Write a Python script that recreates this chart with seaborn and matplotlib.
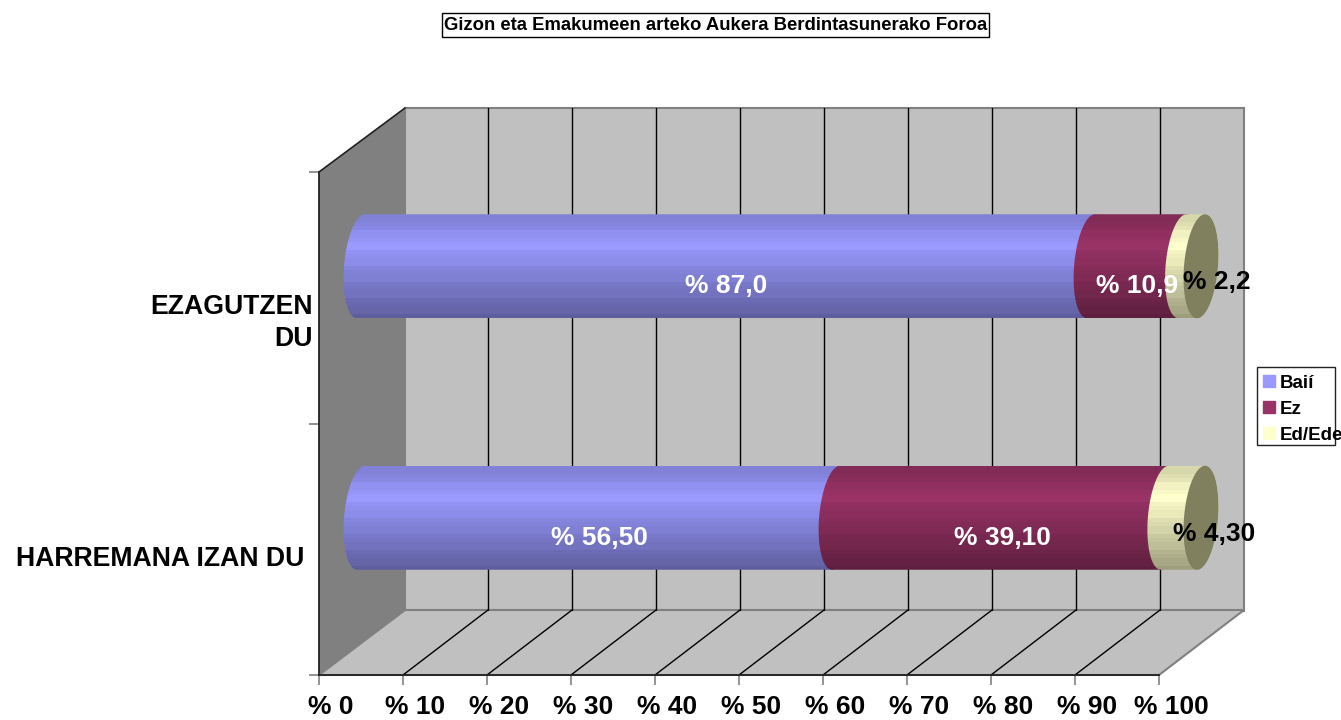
import numpy as np
import matplotlib
matplotlib.use("Agg")
import matplotlib.pyplot as plt
import matplotlib.transforms as mtrans
from matplotlib.patches import Patch, PathPatch, Polygon, Rectangle
from matplotlib.path import Path
import seaborn as sns

categories = ["EZAGUTZEN\nDU", "HARREMANA IZAN DU"]
series_names = ["Baií", "Ez", "Ed/Ede"]
bai = [87.0, 56.5]
ez = [10.9, 39.1]
ed = [2.2, 4.3]
bar_labels = [["% 87,0", "% 56,50"], ["% 10,9", "% 39,10"], ["% 2,2", "% 4,30"]]
x_ticks = [0, 10, 20, 30, 40, 50, 60, 70, 80, 90, 100]
colors = ["#9999FF", "#993366", "#FFFFCC"]
title = "Gizon eta Emakumeen arteko Aukera Berdintasunerako Foroa"

W, H = 1341, 720
sns.set_theme(style="white")
plt.rcParams["font.family"] = ["Liberation Sans", "DejaVu Sans"]
plt.rcParams["font.weight"] = "bold"

fig = plt.figure(figsize=(W / 100, H / 100), dpi=100)

def px_axes(left, top, right, bottom):
    return fig.add_axes([left / W, 1 - bottom / H, (right - left) / W, (bottom - top) / H])

# frame in pixels: left wall, back wall, floor, gridlines
FL, FR, FT, FB = 319, 1159, 172, 675
DX, DY = 86, 65
bg = px_axes(0, 0, W, H)
bg.set_xlim(0, W)
bg.set_ylim(H, 0)
bg.axis("off")
bg.add_patch(Polygon([(FL, FT), (FL + DX, FT - DY + 1), (FL + DX, FB - DY), (FL, FB)], fc="#808080", ec="none"))
bg.add_patch(Rectangle((FL + DX, FT - DY + 1), FR - FL - 1, FB - FT, fc="#C0C0C0", ec="#808080", lw=1.5))
bg.add_patch(Polygon([(FL, FB), (FR, FB), (FR + DX - 1, FB - DY), (FL + DX, FB - DY)], fc="#C0C0C0", ec="#808080", lw=1.5))
for t in x_ticks[1:-1]:
    fx = FL + (FR - FL) * t / 100
    bg.plot([fx + DX - 1, fx + DX - 1], [FT - DY + 1, FB - DY], color="black", lw=1)
    bg.plot([fx, fx + DX - 1], [FB, FB - DY], color="black", lw=1)
bg.plot([FL, FL + DX], [FT, FT - DY + 1], color="#222222", lw=1.2)

# front axis carries ticks and labels
front = px_axes(FL, FT, FR, FB)
front.patch.set_alpha(0)
front.set_xlim(0, 100)
front.set_ylim(1.5, -0.5)
front.set_xticks(x_ticks)
front.set_xticklabels([f"% {t}" for t in x_ticks], fontsize=19, fontweight="bold", color="black")
front.set_yticks([-0.5, 0.5, 1.5])
front.set_yticklabels([])
front.tick_params(axis="both", length=7, width=1.2, color="#808080", bottom=True, left=True, pad=7.7)
shift = mtrans.ScaledTranslation(12 / 100, 0, fig.dpi_scale_trans)
for lab in front.get_xticklabels():
    lab.set_transform(lab.get_transform() + shift)
for s in ["top", "right"]:
    front.spines[s].set_visible(False)
for s in ["left", "bottom"]:
    front.spines[s].set_color("#222222")
    front.spines[s].set_linewidth(1.3)

# bars sit half way through the depth, scale is the same as the front axis
PX = (FR - FL) / 100
ax = px_axes(FL + DX / 2 - 5 * PX - 1, FT - DY / 2 + 1, FR + DX / 2 + 5 * PX - 1, FB - DY / 2 + 1)
ax.patch.set_alpha(0)

# the chart is 100% stacked, so each row is scaled to its own total
totals = np.array(bai) + np.array(ez) + np.array(ed)
cum1 = np.array(bai) / totals * 100
cum2 = cum1 + np.array(ez) / totals * 100
cum3 = cum2 + np.array(ed) / totals * 100
cums = [cum1, cum2, cum3]
BAR_W = 104 / 251.5
for c, col in zip(cums[::-1], colors[::-1]):
    sns.barplot(x=c, y=categories, color=col, saturation=1, width=BAR_W, orient="h", ax=ax)
ax.set_xlim(-5, 105)
ax.set_ylim(1.5, -0.5)
ax.set_xlabel("")
ax.set_ylabel("")
ax.axis("off")

A = 17 / PX
S = 4 / PX
BH = BAR_W / 2

def arc(cx, cy, t0, t1):
    t = np.radians(np.linspace(t0, t1, 60))
    return np.column_stack([cx + A * np.cos(t) + S * np.sin(t), cy - BH * np.sin(t)])

def cyl_path(x0, x1, cy):
    pts = np.vstack([arc(x0, cy, 90, 270), arc(x1, cy, 270, 450)])
    return Path(np.vstack([pts, pts[0]]), closed=True)

shade_y = np.linspace(0, 1, 26)
shade = np.interp(shade_y, [0, 0.28, 1], [0.82, 1.0, 0.62])
shade[::4] = shade[::4] * 1.03

# seaborn patches are the flat bars, shaded cylinders go over them
for p in ax.patches:
    p.set_visible(False)
starts = [np.zeros(2), cum1, cum2]
for i, col in enumerate(colors):
    rgb = np.array(matplotlib.colors.to_rgb(col))
    grad = np.clip(shade[:, None, None] * rgb[None, None, :], 0, 1)
    for r in range(2):
        path = cyl_path(starts[i][r], cums[i][r], r)
        im = ax.imshow(grad, extent=(-5, 105, r + BH, r - BH), aspect="auto", interpolation="nearest", zorder=3 + i)
        im.set_clip_path(PathPatch(path, transform=ax.transData))
for r in range(2):
    ax.add_patch(Polygon(arc(cum3[r], r, 0, 360), fc="#80805F", ec="none", zorder=6))
ax.set_xlim(-5, 105)
ax.set_ylim(1.5, -0.5)

# value labels
offsets = [[(0, -20), (1, -20)], [(0, -20), (2, -20)], [(25, -16), (31, -16)]]
text_cols = ["white", "white", "black"]
for i in range(3):
    for r in range(2):
        ax.annotate(bar_labels[i][r], ((starts[i][r] + cums[i][r]) / 2, r), xytext=offsets[i][r],
                    textcoords="offset pixels", ha="center", va="center", fontsize=19, fontweight="bold",
                    color=text_cols[i], zorder=8, annotation_clip=False)

# category labels
cat_pos = [(-48, -57, "right"), (-57, -41, "right")]
for r, lab in enumerate(categories):
    dx, dy, ha = cat_pos[r]
    ax.annotate(lab, (0, r), xytext=(dx, dy), textcoords="offset pixels", ha=ha, va="center", multialignment="right",
                fontsize=19.2, fontweight="bold", color="black", linespacing=1.3, annotation_clip=False)

# title
fig.text(715.5 / W, 1 - 25 / H, title, ha="center", va="center", fontsize=13.3, fontweight="bold", color="black")
bg.add_patch(Rectangle((442, 13), 547, 24, fc="none", ec="black", lw=1))

# legend, the text runs past its box in the original
bg.add_patch(Rectangle((1257, 367), 78, 78, fc="white", ec="#222222", lw=1, zorder=1))
handles = [Patch(color=c, label=n) for c, n in zip(colors, series_names)]
leg = fig.legend(handles=handles, loc="upper left", bbox_to_anchor=(1263 / W, 1 - 374.5 / H), frameon=False,
                 fontsize=13.5, handlelength=0.65, handleheight=0.65, handletextpad=0.22, labelspacing=0.48,
                 borderpad=0, borderaxespad=0, labelcolor="black")
for t in leg.get_texts():
    t.set_fontweight("bold")

fig.savefig("out.png", dpi=100)
